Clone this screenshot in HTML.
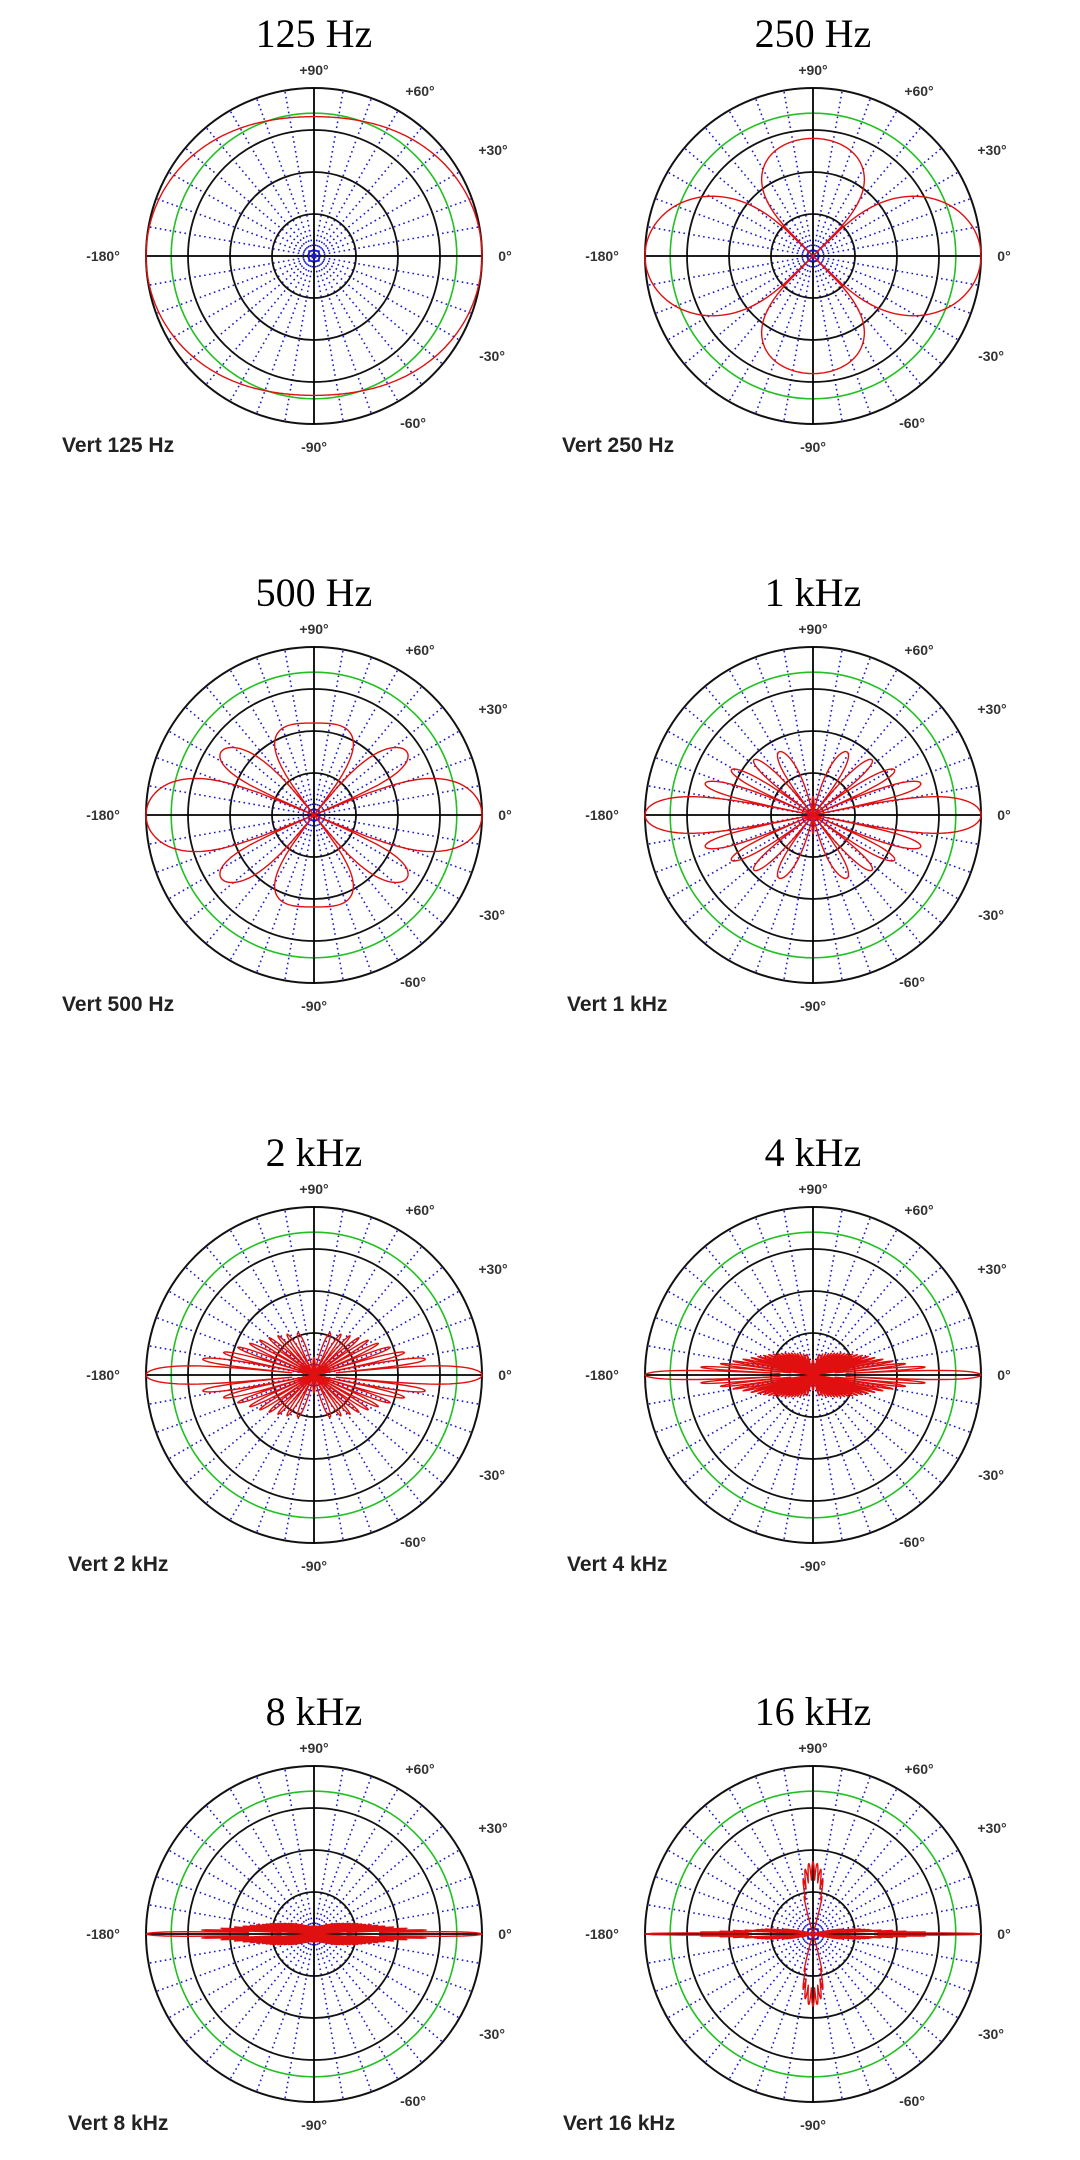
<!DOCTYPE html>
<html><head><meta charset="utf-8"><style>
html,body{margin:0;padding:0;background:#fff;}
svg{display:block;}
</style></head><body>
<svg id="s" width="1080" height="2160" xmlns="http://www.w3.org/2000/svg"></svg>
<script>
const S=document.getElementById('s');
const NS='http://www.w3.org/2000/svg';
function el(t,a,txt){const e=document.createElementNS(NS,t);for(const k in a)e.setAttribute(k,a[k]);if(txt!==undefined)e.textContent=txt;S.appendChild(e);return e;}
const R=168;
const charts=[
 [314,256,125,'125 Hz','Vert  125 Hz',62],
 [813,256,250,'250 Hz','Vert  250 Hz',562],
 [314,815,500,'500 Hz','Vert  500 Hz',62],
 [813,815,1000,'1 kHz','Vert  1 kHz',567],
 [314,1375,2000,'2 kHz','Vert  2 kHz',68],
 [813,1375,4000,'4 kHz','Vert  4 kHz',567],
 [314,1934,8000,'8 kHz','Vert  8 kHz',68],
 [813,1934,16000,'16 kHz','Vert  16 kHz',563]
];
const L=1.75, c=343, d=0.0218;
const N=Math.round(L/d);
function dB(f,th){
  const lam=c/f; const s=Math.sin(th);
  const psi=2*Math.PI*d/lam*s;
  let af;
  if(Math.abs(Math.sin(psi/2))<1e-9) af=1; else af=Math.sin(N*psi/2)/(N*Math.sin(psi/2));
  let v=20*Math.log10(Math.abs(af)+1e-6);
  if(f>=16000) v-=30*s*s;
  return v;
}
function rad(f,th){
  if(f===250){
    const cs=Math.cos(th);
    const A=0.7+0.3*cs*cs;
    return A*Math.pow(Math.abs(Math.cos(2*th)),0.38);
  }
  let r=1+dB(f,th)/40; if(r<0)r=0;
  if(f===16000){
    let a=th*180/Math.PI; a=((a%180)+180)%180;
    const dev=Math.abs(a-90);
    if(dev<16){
      const v=0.43*Math.sqrt(1-Math.pow(dev/16,2))*(0.75+0.25*Math.abs(Math.cos(dev*0.9)));
      if(v>r)r=v;
    }
  }
  return r;
}
for(const [cx,cy,f,title,vert,vx] of charts){
  el('text',{x:cx,y:cy-209,'text-anchor':'middle','font-family':'Liberation Serif, serif','font-size':40},title);
  for(let a=0;a<360;a+=10){
    if(a%90===0)continue;
    const r=a*Math.PI/180;
    el('line',{x1:cx,y1:cy,x2:cx+R*Math.cos(r),y2:cy-R*Math.sin(r),stroke:'#1a1ad0','stroke-width':1.6,'stroke-dasharray':'1.6 3.4'});
  }
  for(const k of [0.25,0.5,0.75,1]) el('circle',{cx:cx,cy:cy,r:R*k,fill:'none',stroke:'#111','stroke-width':k==1?2:1.8});
  el('circle',{cx:cx,cy:cy,r:R*0.85,fill:'none',stroke:'#22c022','stroke-width':1.6});
  el('line',{x1:cx-R,y1:cy,x2:cx+R,y2:cy,stroke:'#000','stroke-width':1.8});
  el('line',{x1:cx,y1:cy-R,x2:cx,y2:cy+R,stroke:'#000','stroke-width':1.8});
  el('rect',{x:cx-5,y:cy-5,width:10,height:10,fill:'none',stroke:'#1a1ad0','stroke-width':1.5});
  el('rect',{x:cx-2.5,y:cy-2.5,width:5,height:5,fill:'#1a1ad0'});
  let pts=[];
  const step=f>=1000?0.25:1;
  for(let a=0;a<360;a+=step){
    const th=a*Math.PI/180;
    const r=rad(f,th);
    pts.push((cx+R*r*Math.cos(th)).toFixed(1)+','+(cy-R*r*Math.sin(th)).toFixed(1));
  }
  el('polygon',{points:pts.join(' '),fill:'none',stroke:'#e01010','stroke-width':1.4,'stroke-linejoin':'round'});
  const lab={'font-family':'Liberation Sans, sans-serif','font-size':14,'font-weight':'bold',fill:'#333','text-anchor':'middle'};
  const L2=[['+90°',0,-186],['+60°',106,-165],['+30°',179,-106],['0°',191,0],['-30°',178,100],['-60°',99,167],['-90°',0,191],['-180°',-211,0]];
  for(const [t,dx,dy] of L2) el('text',Object.assign({x:cx+dx,y:cy+dy+5},lab),t);
  el('text',{x:vx,y:cy+196,'font-family':'Liberation Sans, sans-serif','font-size':21,'font-weight':'bold',fill:'#222','xml:space':'preserve'},vert);
}
</script>
</body></html>
